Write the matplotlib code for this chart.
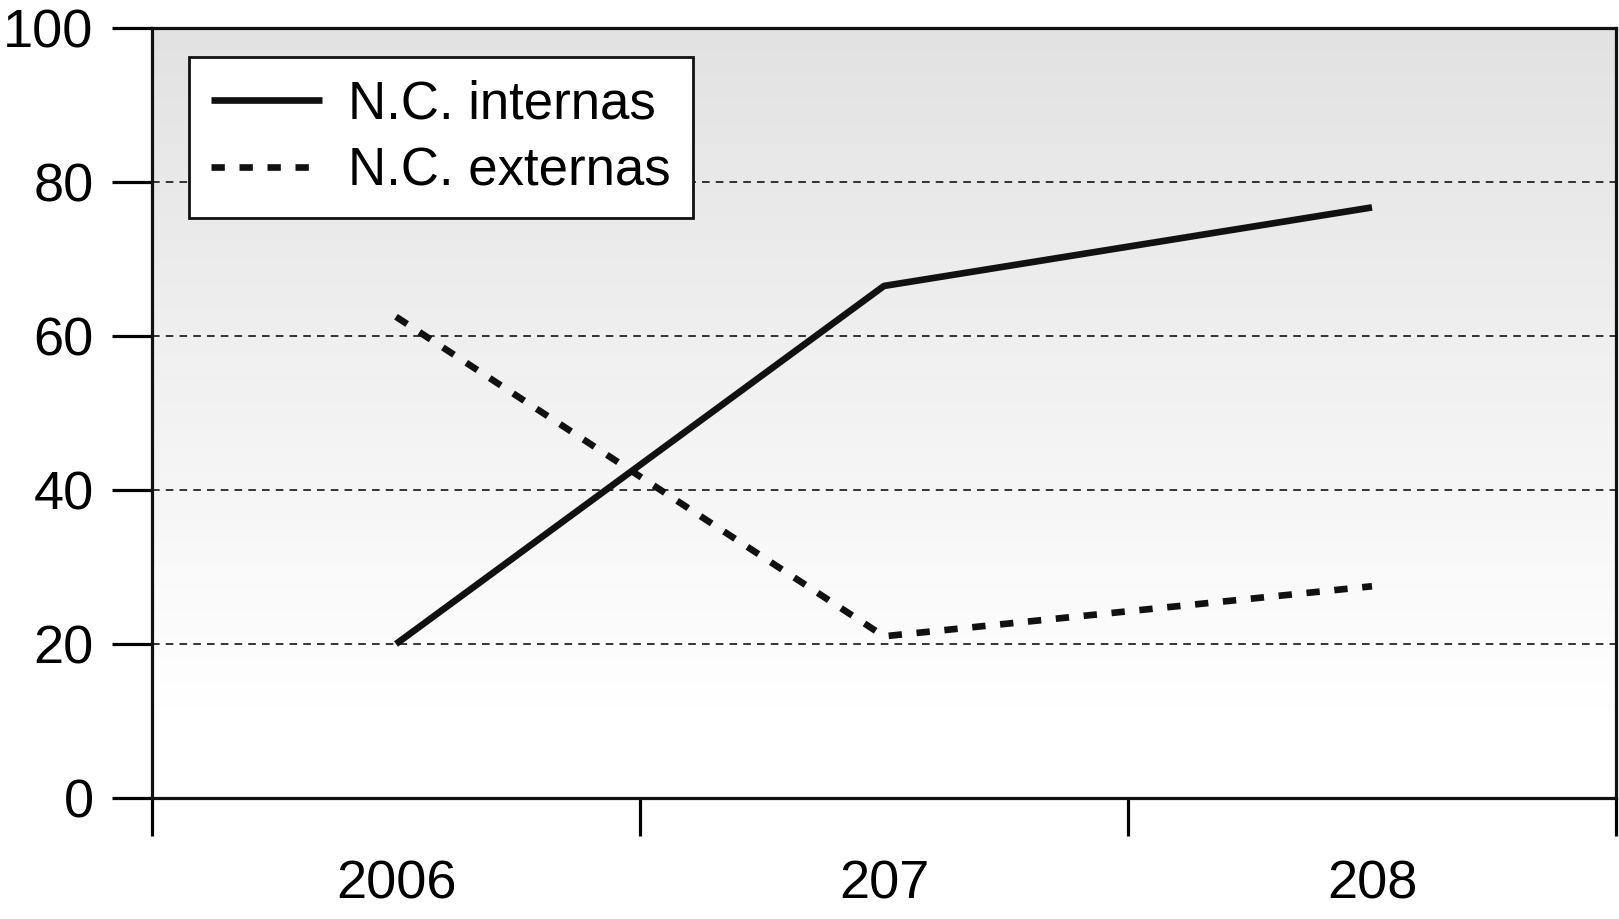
import matplotlib
matplotlib.use("Agg")
import matplotlib.pyplot as plt
import numpy as np

categories = ["2006", "207", "208"]
internas = [20, 66.5, 76.7]
externas = [62.5, 21, 27.5]
yticks = [0, 20, 40, 60, 80, 100]

plt.rcParams['font.family'] = ['Liberation Sans', 'DejaVu Sans']

fig = plt.figure(figsize=(16.19, 9.19), dpi=100)
ax = fig.add_axes([152/1619, 1-798/919, (1616-152)/1619, (798-28)/919])

x = np.arange(len(categories))
ax.set_xlim(-0.5, len(categories) - 0.5)
ax.set_ylim(0, 100)

# gradient background
vals = np.linspace(100, 0, 400)
shade = np.clip(255 - (vals - 12) / (100 - 12) * 29, 226, 255) / 255.0
img = np.repeat(shade[:, None], 2, axis=1)
img = np.dstack([img, img, img])
ax.imshow(img, extent=[-0.5, len(categories) - 0.5, 0, 100], aspect='auto', zorder=0)

for yv in yticks[1:-1]:
    ax.axhline(yv, color='black', lw=1.1, ls=(0, (5, 4)), zorder=1)

ax.plot(x, internas, color='#111111', lw=4.8, solid_capstyle='butt', label='N.C. internas', zorder=3)
ax.plot(x, externas, color='#111111', lw=4.8, dashes=(2.0, 2.2), dash_capstyle='butt', label='N.C. externas', zorder=3)

for s in ax.spines.values():
    s.set_linewidth(2.3)
    s.set_color('#111111')

ax.set_yticks(yticks)
ax.set_yticklabels([str(v) for v in yticks])
ax.tick_params(axis='y', length=29, width=2.3, pad=13, labelsize=39, direction='out')

ax.set_xticks(np.arange(-0.5, len(categories), 1.0))
ax.set_xticklabels([])
ax.set_xticks(x, minor=True)
ax.set_xticklabels(categories, minor=True)
ax.tick_params(axis='x', which='major', length=27, width=2.3, direction='out')
ax.tick_params(axis='x', which='minor', length=0, pad=44, labelsize=39)

leg = ax.legend(loc='upper left', bbox_to_anchor=((189-152)/1464, (798-57)/770),
                borderaxespad=0, fontsize=38, frameon=True, fancybox=False,
                handlelength=2.1, handletextpad=0.5, labelspacing=0.32,
                borderpad=0.42)
leg.get_frame().set_edgecolor('#111111')
leg.get_frame().set_linewidth(2.0)
leg.get_frame().set_facecolor('white')
leg.get_frame().set_alpha(1)

fig.savefig("out.png", dpi=100)
